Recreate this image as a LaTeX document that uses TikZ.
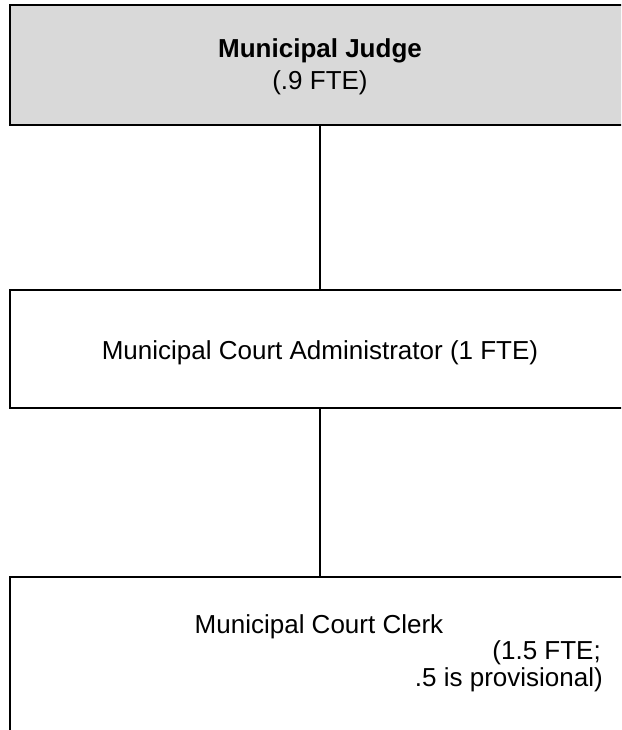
\documentclass[tikz,border=0pt]{standalone}
\usepackage{fontspec}
\setmainfont{Liberation Sans}
\usetikzlibrary{positioning}
\definecolor{boxgray}{HTML}{D9D9D9}
\tikzset{
  orgbox/.style={draw, line width=2.4pt, minimum width=620pt, inner sep=0pt},
  judgebox/.style={orgbox, fill=boxgray, minimum height=120pt},
  link/.style={line width=2.4pt},
  txt/.style={inner sep=0pt, anchor=base}
}

\begin{document}
\begin{tikzpicture}[x=1pt,y=-1pt,font=\fontsize{26}{31}\selectfont]
\useasboundingbox (0,0) rectangle (621,730);
\clip (0,0) rectangle (621,730);

\draw (320,65)  node (judge) [judgebox] {};
\draw (320,58)  node (judgename) [txt] {\bfseries Municipal Judge};
\draw (320,90)  node (judgefte)  [txt] {(.9 FTE)};

\draw (320,349) node (admin) [orgbox, minimum height=118pt] {};
\draw (320,359) node (adminname) [txt] {Municipal Court Administrator (1 FTE)};
\draw[link] (judge.south) -- (admin.north);

\draw (320,680) node (clerk) [orgbox, minimum height=206pt] {};
\draw (319,633) node (clerkname) [txt] {Municipal Court Clerk};
\draw (601,659) node (clerkfte)  [txt, anchor=base east] {(1.5 FTE;};
\draw (603,686) node (clerknote) [txt, anchor=base east] {.5 is provisional)};
\draw[link] (admin.south) -- (clerk.north);
\end{tikzpicture}
\end{document}
